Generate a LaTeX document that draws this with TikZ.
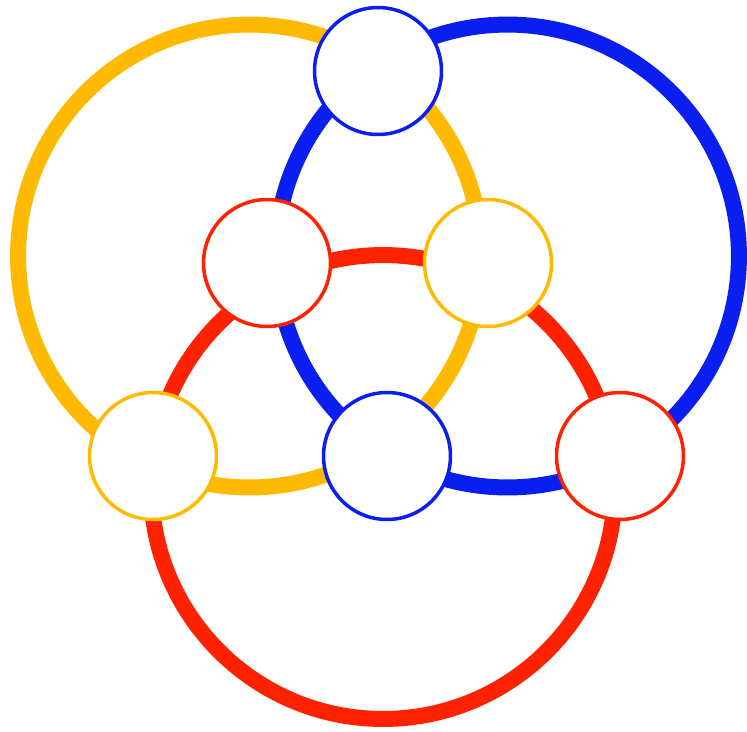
\documentclass[tikz,border=0pt]{standalone}
\usepackage{tikz}
\usetikzlibrary{positioning}
\definecolor{gold}{HTML}{FFBA00}
\definecolor{cobalt}{HTML}{0A1EF0}
\definecolor{scarlet}{HTML}{FF2200}

\begin{document}
\begin{tikzpicture}[
  x=0.02cm,y=-0.02cm,
  ring/.style={line width=0.32cm},
  hub/.style={circle,draw,fill=white,line width=0.07cm,minimum size=2.54cm,inner sep=0pt}
]
\path[use as bounding box,fill=white] (0,0) rectangle (747,731);
\draw[ring,draw=gold] (249.5,256) circle[radius=4.63cm];
\draw[ring,draw=cobalt] (507.5,256) circle[radius=4.63cm];
\draw[ring,draw=scarlet] (383,487) circle[radius=4.64cm];
\node[hub,draw=cobalt] (topblue) at (378,71) {};
\node[hub,draw=scarlet] (innerred) at (267,263) {};
\node[hub,draw=gold] (innergold) at (488,263) {};
\node[hub,draw=gold] (outergold) at (153,456) {};
\node[hub,draw=cobalt] (innerblue) at (387,456) {};
\node[hub,draw=scarlet] (outerred) at (620,456) {};
\end{tikzpicture}
\end{document}
